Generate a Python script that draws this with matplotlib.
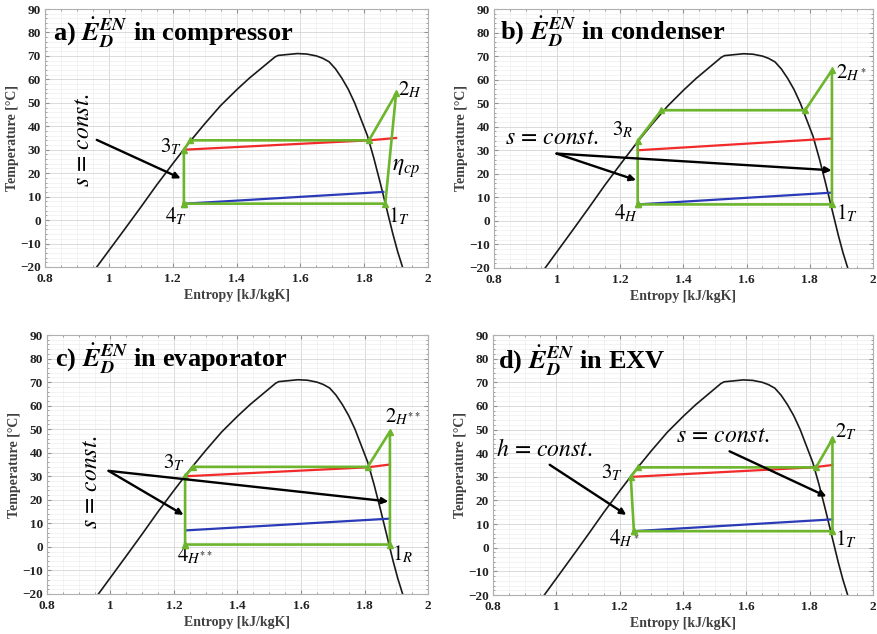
import numpy as np
import matplotlib
matplotlib.use('Agg')
import matplotlib.pyplot as plt
from matplotlib.ticker import MultipleLocator

plt.rcParams['font.family'] = ['Liberation Serif', 'DejaVu Serif']
plt.rcParams['mathtext.fontset'] = 'stix'

# saturation dome
dome_s = [0.962, 1.0, 1.05, 1.1, 1.15, 1.2, 1.25, 1.3, 1.35, 1.4, 1.44, 1.48, 1.52,
          1.53, 1.56, 1.59, 1.62, 1.65, 1.67, 1.69, 1.71, 1.73, 1.75, 1.77, 1.79,
          1.81, 1.83, 1.85, 1.87, 1.89, 1.905, 1.92]
dome_t = [-20, -13, -3.8, 5.5, 15, 24, 32.8, 41, 48.8, 55.5, 60.5, 65, 69.5,
          70.2, 70.6, 71, 70.8, 70, 69, 67.5, 64.5, 60.5, 55.8, 50, 43,
          36, 26.5, 16, 5, -6, -13.5, -20]

# a) compressor
cyc_a_s = [1.235, 1.235, 1.255, 1.815, 1.90, 1.866, 1.235]
cyc_a_t = [7, 30, 34, 34, 54, 7, 7]
red_a_s = [1.235, 1.815, 1.90]
red_a_t = [30, 34, 35]
blue_a_s = [1.24, 1.86]
blue_a_t = [7, 12]

# b) condenser
cyc_b_s = [1.255, 1.255, 1.33, 1.785, 1.87, 1.87, 1.255]
cyc_b_t = [7, 34, 47, 47, 64, 7, 7]
red_b_s = [1.255, 1.87]
red_b_t = [30, 35]
blue_b_s = [1.255, 1.87]
blue_b_t = [7, 12]

# c) evaporator
cyc_c_s = [1.235, 1.235, 1.26, 1.81, 1.88, 1.88, 1.235]
cyc_c_t = [1, 30, 34, 34, 49, 1, 1]
red_c_s = [1.235, 1.81, 1.88]
red_c_t = [30, 33.8, 35]
blue_c_s = [1.235, 1.88]
blue_c_t = [7, 12]

# d) EXV
cyc_d_s = [1.245, 1.235, 1.258, 1.82, 1.872, 1.872, 1.245]
cyc_d_t = [7, 30, 34, 34, 46, 7, 7]
red_d_s = [1.24, 1.81, 1.872]
red_d_t = [30, 34, 35]
blue_d_s = [1.245, 1.872]
blue_d_t = [7, 12]

GREEN = '#6cb52d'
RED = '#f22a2a'
BLUE = '#2b3bb8'
LBL = 15
CST = 17


def setup(ax):
    ax.set_xlim(0.8, 2)
    ax.set_ylim(-20, 90)
    ax.xaxis.set_minor_locator(MultipleLocator(0.05))
    ax.yaxis.set_major_locator(MultipleLocator(10))
    ax.yaxis.set_minor_locator(MultipleLocator(2))
    ax.set_xticks(np.arange(0.8, 2.01, 0.2))
    ax.set_xticklabels(['0.8', '1', '1.2', '1.4', '1.6', '1.8', '2'])
    ax.grid(which='major', color='#d4d4d4', lw=0.6)
    ax.grid(which='minor', color='#ebebeb', lw=0.4)
    ax.tick_params(which='both', direction='in', top=True, right=True,
                   colors='#909090', labelcolor='#222222', labelsize=9.5)
    ax.tick_params(axis='x', pad=4)
    ax.tick_params(axis='y', pad=3)
    ax.tick_params(which='major', length=3)
    ax.tick_params(which='minor', length=1.5)
    for t in ax.get_xticklabels() + ax.get_yticklabels():
        t.set_fontweight('bold')
    for sp in ax.spines.values():
        sp.set_color('#b0b0b0')
        sp.set_linewidth(0.8)
    ax.set_xlabel('Entropy [kJ/kgK]', fontsize=10, fontweight='bold', color='#404040', labelpad=3)
    ax.set_ylabel('Temperature [°C]', fontsize=10, fontweight='bold', color='#404040', labelpad=1)


def draw(ax, cs, ct, rs, rt, bs, bt):
    ax.plot(dome_s, dome_t, color='#1a1a1a', lw=1.2, zorder=2)
    ax.plot(rs, rt, color=RED, lw=1.6, zorder=3)
    ax.plot(bs, bt, color=BLUE, lw=1.6, zorder=3)
    ax.plot(cs, ct, color=GREEN, lw=1.9, marker='^', ms=5, zorder=4)


def arrow(ax, start, end):
    ax.annotate('', xy=end, xytext=start,
                arrowprops=dict(arrowstyle='-|>', color='black', lw=1.7,
                                mutation_scale=9, shrinkA=0, shrinkB=0), zorder=5)


def title(ax, x, y, s):
    ax.text(x, y, s, fontsize=19, fontweight='bold', ha='left', va='center', zorder=6)


fig = plt.figure(figsize=(8.78, 6.34), dpi=100)
ax_a = fig.add_axes([0.0513, 0.5789, 0.4362, 0.4069])
ax_b = fig.add_axes([0.5626, 0.5773, 0.4317, 0.4085])
ax_c = fig.add_axes([0.0535, 0.0631, 0.4340, 0.4085])
ax_d = fig.add_axes([0.5615, 0.0615, 0.4328, 0.4101])

E = r'$\dot{\mathbfit{E}}_{\mathbfit{D}}^{\mathbfit{EN}}$'

# a
setup(ax_a)
draw(ax_a, cyc_a_s, cyc_a_t, red_a_s, red_a_t, blue_a_s, blue_a_t)
title(ax_a, 0.825, 80, 'a) ' + E + ' in compressor')
ax_a.text(1.905, 55.5, r'$2_H$', fontsize=LBL, ha='left', va='center')
ax_a.text(1.228, 31, r'$3_T$', fontsize=LBL, ha='right', va='center')
ax_a.text(1.21, 1.5, r'$4_T$', fontsize=LBL, ha='center', va='center')
ax_a.text(1.875, 1.5, r'$1_T$', fontsize=LBL, ha='left', va='center')
ax_a.text(1.888, 22, r'$\eta_{cp}$', fontsize=CST, ha='left', va='center')
ax_a.text(0.92, 34, r'$s\,=\,const.$', fontsize=CST, rotation=90, ha='center', va='center')
arrow(ax_a, (0.962, 34.2), (1.225, 17.8))

# b
setup(ax_b)
draw(ax_b, cyc_b_s, cyc_b_t, red_b_s, red_b_t, blue_b_s, blue_b_t)
title(ax_b, 0.82, 80.5, 'b) ' + E + ' in condenser')
ax_b.text(1.24, 38.5, r'$3_R$', fontsize=LBL, ha='right', va='center')
ax_b.text(1.882, 63, r'$2_{H^*}$', fontsize=LBL, ha='left', va='center')
ax_b.text(1.218, 3, r'$4_H$', fontsize=LBL, ha='center', va='center')
ax_b.text(1.882, 3, r'$1_T$', fontsize=LBL, ha='left', va='center')
ax_b.text(0.835, 35, r'$s\,=\,const.$', fontsize=CST, ha='left', va='center')
arrow(ax_b, (0.998, 28.6), (1.869, 21.5))
arrow(ax_b, (0.998, 28.6), (1.25, 17.3))

# c
setup(ax_c)
draw(ax_c, cyc_c_s, cyc_c_t, red_c_s, red_c_t, blue_c_s, blue_c_t)
title(ax_c, 0.826, 80, 'c) ' + E + ' in evaporator')
ax_c.text(1.20, 35.5, r'$3_T$', fontsize=LBL, ha='center', va='center')
ax_c.text(1.265, -3.5, r'$4_{H^{**}}$', fontsize=LBL, ha='center', va='center')
ax_c.text(1.864, 55, r'$2_{H^{**}}$', fontsize=LBL, ha='left', va='center')
ax_c.text(1.885, -3, r'$1_R$', fontsize=LBL, ha='left', va='center')
ax_c.text(0.94, 27.5, r'$s\,=\,const.$', fontsize=CST, rotation=90, ha='center', va='center')
arrow(ax_c, (0.994, 32.3), (1.875, 19.3))
arrow(ax_c, (0.994, 32.3), (1.23, 13.6))

# d
setup(ax_d)
draw(ax_d, cyc_d_s, cyc_d_t, red_d_s, red_d_t, blue_d_s, blue_d_t)
title(ax_d, 0.816, 79, 'd) ' + E + ' in EXV')
ax_d.text(0.81, 41.5, r'$h\,=\,const.$', fontsize=CST, ha='left', va='center')
ax_d.text(1.379, 47.2, r'$s\,=\,const.$', fontsize=CST, ha='left', va='center')
arrow(ax_d, (0.979, 35.1), (1.221, 13.9))
arrow(ax_d, (1.547, 40.8), (1.853, 21.7))
ax_d.text(1.879, 49, r'$2_T$', fontsize=LBL, ha='left', va='center')
ax_d.text(1.175, 31.5, r'$3_T$', fontsize=LBL, ha='center', va='center')
ax_d.text(1.215, 4, r'$4_{H^*}$', fontsize=LBL, ha='center', va='center')
ax_d.text(1.88, 3.5, r'$1_T$', fontsize=LBL, ha='left', va='center')

fig.savefig('out.png', dpi=100)
